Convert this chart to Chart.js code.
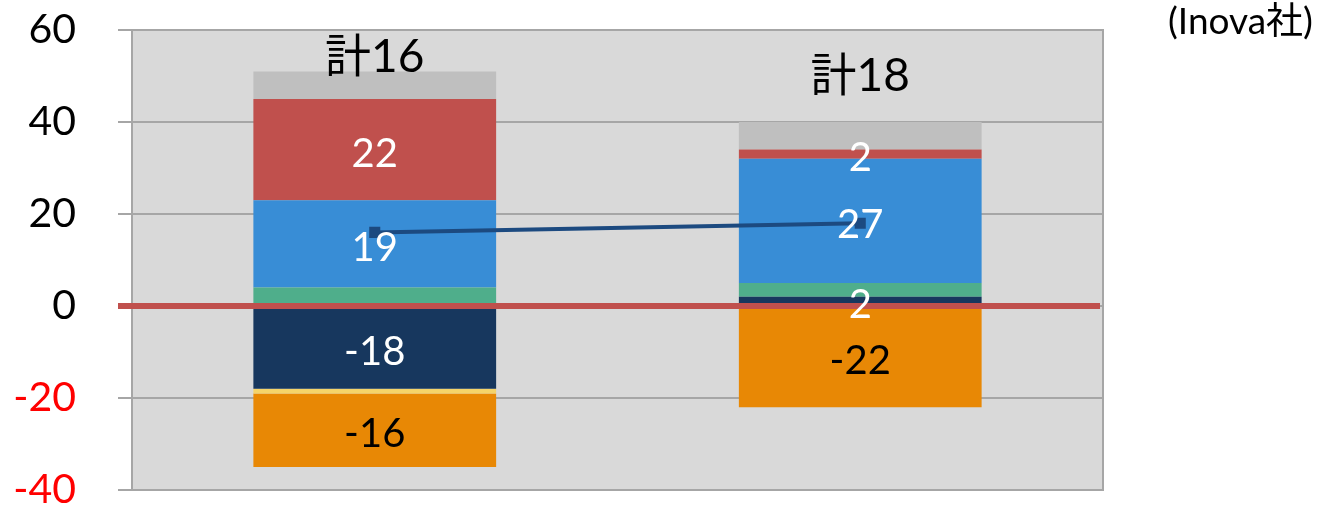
<!DOCTYPE html>
<html>
<head>
<meta charset="utf-8">
<script src="https://cdn.jsdelivr.net/npm/chart.js@4.4.1/dist/chart.umd.min.js"></script>
<style>
  html, body { margin: 0; padding: 0; background: #fff; }
  #wrap { position: relative; width: 1329px; height: 509px; }
  #note {
    position: absolute; right: 16px; top: 1px; line-height: 1;
    font-family: Lato, "Noto Sans CJK JP", sans-serif; font-size: 37px; color: #000;
  }
</style>
</head>
<body>
<div id="wrap">
  <canvas id="chart" width="1329" height="509"></canvas>
  <div id="note">(Inova社)</div>
</div>
<script>
const categories = ["1", "2"];
const navy = [-18, 2];
const green = [4, 3];
const blue = [19, 27];
const red = [22, 2];
const gray = [6, 6];
const yellow = [-1, 0];
const orange = [-16, -22];
const lineValues = [16, 18];
const totalLabels = ["計16", "計18"];
const totalAt = [54, 50];

const FONT = 'Lato, "Noto Sans CJK JP", sans-serif';
Chart.defaults.font.family = FONT;

// background, frame, zero line and the text on the bars
const decor = {
  id: "decor",
  beforeDraw(chart) {
    const { ctx, chartArea: a } = chart;
    ctx.save();
    ctx.fillStyle = "#D9D9D9";
    ctx.fillRect(a.left, a.top, a.right - a.left, a.bottom - a.top);
    ctx.restore();
  },
  beforeDatasetsDraw(chart) {
    const { ctx, chartArea: a } = chart;
    ctx.save();
    ctx.strokeStyle = "#A6A6A6";
    ctx.lineWidth = 2;
    ctx.strokeRect(a.left, a.top, a.right - a.left, a.bottom - a.top);
    ctx.restore();
  },
  afterDatasetsDraw(chart) {
    const { ctx, chartArea: a, scales: { y } } = chart;
    ctx.save();
    const y0 = y.getPixelForValue(0);
    ctx.strokeStyle = "#C0504D";
    ctx.lineWidth = 6;
    ctx.beginPath();
    ctx.moveTo(a.left - 14, y0);
    ctx.lineTo(a.right - 3, y0);
    ctx.stroke();

    ctx.textAlign = "center";
    ctx.textBaseline = "middle";
    ctx.font = "40px " + FONT;
    chart.data.datasets.forEach((ds, i) => {
      if (!ds.labelColor) return;
      chart.getDatasetMeta(i).data.forEach((bar, j) => {
        const v = ds.data[j];
        if (!v) return;
        ctx.fillStyle = ds.labelColor;
        ctx.fillText(String(v), bar.x, (bar.y + bar.base) / 2 + 4);
      });
    });

    ctx.fillStyle = "#000";
    ctx.font = "46px " + FONT;
    const xs = chart.scales.x;
    totalLabels.forEach((t, j) => {
      ctx.fillText(t, xs.getPixelForValue(j), y.getPixelForValue(totalAt[j]));
    });
    ctx.restore();
  },
};

const bar = (label, data, color, labelColor) => ({
  type: "bar",
  label: label,
  data: data,
  backgroundColor: color,
  borderWidth: 0,
  stack: "s",
  order: 1,
  labelColor: labelColor,
});

new Chart(document.getElementById("chart"), {
  data: {
    labels: categories,
    datasets: [
      {
        type: "line",
        label: "line",
        data: lineValues,
        borderColor: "#1C4A80",
        backgroundColor: "#1C4A80",
        borderWidth: 4,
        pointStyle: "rect",
        pointRadius: 5,
        stack: "l",
        order: 0,
      },
      bar("navy", navy, "#17375E", "#fff"),
      bar("green", green, "#4FAE8B", null),
      bar("blue", blue, "#388DD6", "#fff"),
      bar("red", red, "#C0504D", "#fff"),
      bar("gray", gray, "#BFBFBF", null),
      bar("yellow", yellow, "#F5D46A", null),
      bar("orange", orange, "#E88805", "#000"),
    ],
  },
  plugins: [decor],
  options: {
    responsive: false,
    animation: false,
    layout: { autoPadding: false, padding: { top: 30, right: 226, bottom: 19, left: 0 } },
    datasets: { bar: { barPercentage: 0.5, categoryPercentage: 1.0 } },
    plugins: { legend: { display: false }, tooltip: { enabled: false } },
    scales: {
      x: { display: false, stacked: true },
      y: {
        stacked: true,
        min: -40,
        max: 60,
        afterFit: (s) => {
          s.width = 132;
          s.paddingTop = 0;
          s.paddingBottom = 0;
        },
        border: { display: false },
        grid: { color: "#A6A6A6", lineWidth: 2, tickLength: 14 },
        ticks: {
          stepSize: 20,
          padding: 42,
          font: { size: 41 },
          color: (c) => (c.tick && c.tick.value < 0 ? "#FF0000" : "#000"),
        },
      },
    },
  },
});
</script>
</body>
</html>
